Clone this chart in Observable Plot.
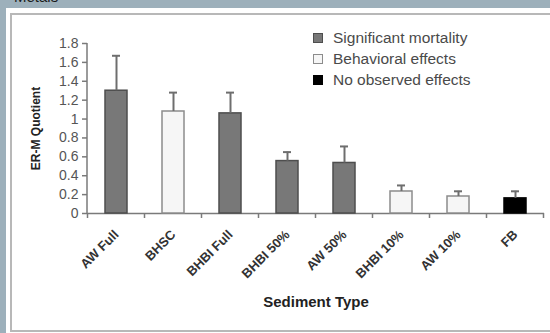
<!DOCTYPE html>
<html><head><meta charset="utf-8">
<script src="https://cdn.jsdelivr.net/npm/d3@7"></script>
<script src="https://cdn.jsdelivr.net/npm/@observablehq/plot@0.6"></script>
<style>
html,body{margin:0;padding:0;}
body{width:550px;height:333px;background:#9db0bb;position:relative;overflow:hidden;font-family:"Liberation Sans",Arial,sans-serif;}
#title{position:absolute;left:14px;top:-11px;font-size:15px;line-height:16px;color:#1a1a1a;}
#panel{position:absolute;left:6px;top:8px;width:560px;height:340px;background:#fff;}
#frame{position:absolute;left:10px;top:13px;width:600px;height:319px;border:2px solid #b8b8b8;box-sizing:border-box;}
#chart{position:absolute;left:0;top:0;}
#legend{position:absolute;left:313px;top:28px;font-size:15.5px;color:#4a4a4a;}
.row{height:20.7px;display:flex;align-items:center;white-space:nowrap;}
.sw{width:8px;height:8px;border:1px solid #555;margin-right:10px;}
g[aria-label="y-axis label"] text, g[aria-label="x-axis label"] text{font-weight:bold;fill:#222;}
</style></head>
<body>
<div id="title">Metals</div>
<div id="panel"></div>
<div id="frame"></div>
<div id="chart"></div>
<div id="legend"></div>
<script>
const categories = ["AW Full","BHSC","BHBI Full","BHBI 50%","AW 50%","BHBI 10%","AW 10%","FB"];
const quotients = [1.30, 1.08, 1.06, 0.555, 0.535, 0.233, 0.18, 0.16];
const errorTops = [1.67, 1.28, 1.28, 0.65, 0.71, 0.297, 0.235, 0.235];
const effects = ["Significant mortality","Behavioral effects","Significant mortality","Significant mortality","Significant mortality","Behavioral effects","Behavioral effects","No observed effects"];
const effectTypes = ["Significant mortality","Behavioral effects","No observed effects"];
const effectFills = ["#787878","#f6f6f6","#000000"];
const effectStrokes = ["#4e4e4e","#8c8c8c","#000000"];
const yTicks = [0,0.2,0.4,0.6,0.8,1,1.2,1.4,1.6,1.8];

const rows = categories.map((c,i)=>({cat:c, q:quotients[i], err:errorTops[i], effect:effects[i]}));
const fillOf = d => effectFills[effectTypes.indexOf(d.effect)];
const strokeOf = d => effectStrokes[effectTypes.indexOf(d.effect)];

function axisLines(index, scales, values, dims) {
  const x = scales.x, y = scales.y;
  const bw = typeof x.bandwidth === "function" ? x.bandwidth() : x.bandwidth;
  const step = x(categories[1]) - x(categories[0]);
  const gap = step - bw;
  const bounds = categories.map(c => x(c) - gap/2);
  bounds.push(x(categories[categories.length-1]) + bw + gap/2);
  const g = d3.create("svg:g").attr("stroke","#7a7a7a").attr("stroke-width",1.5);
  const y0 = y(0);
  g.selectAll("line.t").data(bounds).join("line")
    .attr("x1",d=>d).attr("x2",d=>d).attr("y1",y0).attr("y2",y0+5);
  g.append("line").attr("x1",dims.marginLeft).attr("x2",dims.marginLeft)
    .attr("y1",y(yTicks[yTicks.length-1])).attr("y2",y0);
  return g.node();
}

const chart = Plot.plot({
  width: 550, height: 333,
  marginLeft: 87, marginRight: 6, marginTop: 43, marginBottom: 120,
  style: {background:"transparent", overflow:"visible", fontFamily:"'Liberation Sans', Arial, sans-serif"},
  x: {domain: categories, paddingInner: 0.62, paddingOuter: 0.31},
  y: {domain: [0, 1.8]},
  color: {type: "identity"},
  marks: [
    Plot.axisY({ticks: yTicks, tickSize: 5, tickPadding: 4, fontSize: 14, fill: "#555", stroke:"#7a7a7a", strokeWidth: 1.5,
      tickFormat: d => String(+d.toFixed(1)), label: "ER-M Quotient", labelAnchor: "center", labelArrow: "none", labelOffset: 56}),
    Plot.axisX({tickSize: 0, tickPadding: 19, tickRotate: -45, fontSize: 13, fontWeight: "bold", fill: "#333",
      label: "Sediment Type", labelAnchor: "center", labelArrow: "none", labelOffset: 93}),
    Plot.ruleY([0], {stroke:"#7a7a7a", strokeWidth: 1.5}),
    axisLines,
    Plot.barY(rows, {x:"cat", y:"q", fill: fillOf, stroke: strokeOf, strokeWidth: 1.5}),
    Plot.ruleX(rows, {x:"cat", y1:"q", y2:"err", stroke:"#6e6e6e", strokeWidth: 2}),
    Plot.tickY(rows, {x:"cat", y:"err", stroke:"#6e6e6e", strokeWidth: 2, insetLeft: 7, insetRight: 7})
  ]
});
document.getElementById("chart").appendChild(chart);
chart.querySelectorAll('g[aria-label="x-axis label"] text, g[aria-label="y-axis label"] text').forEach(t=>{
  t.setAttribute("font-size", t.closest('g[aria-label="x-axis label"]') ? 15 : 12);
});

const legend = d3.select("#legend");
effectTypes.forEach((t,i)=>{
  const r = legend.append("div").attr("class","row");
  r.append("div").attr("class","sw").style("background",effectFills[i]).style("border-color",effectStrokes[i]);
  r.append("span").text(t);
});
</script>
</body></html>
